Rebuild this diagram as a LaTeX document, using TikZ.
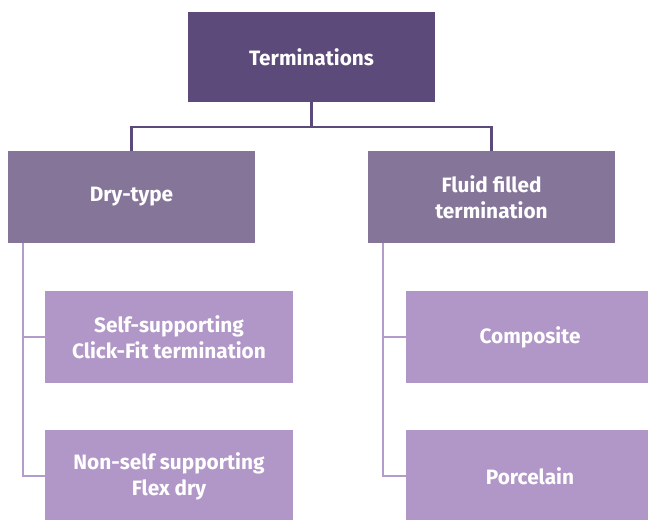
\documentclass[tikz,border=0pt]{standalone}
\usepackage{fontspec}
\setmainfont{Fira Sans}
\usetikzlibrary{positioning}

\definecolor{topcol}{HTML}{5C4A7B}
\definecolor{midcol}{HTML}{857599}
\definecolor{lowcol}{HTML}{B197C7}
\definecolor{linelow}{HTML}{B39BCB}

\begin{document}
\begin{tikzpicture}[
  headbox/.style={rectangle,fill=topcol,text=white,align=center,minimum width=6.175cm,minimum height=2.25cm,font=\fontsize{14.8}{18.6}\selectfont\bfseries},
  groupbox/.style={headbox,fill=midcol,minimum height=2.3cm},
  leafbox/.style={headbox,fill=lowcol,minimum width=6.2cm,minimum height=2.3cm},
  topline/.style={draw=topcol,line width=1.5pt},
  leafline/.style={draw=linelow,line width=1.5pt}
]
\useasboundingbox (0,0) rectangle (16.2,-12.975);

% Kopf und zweite Ebene
\node[headbox] (term) at (7.7875,-1.425) {Terminations};
\node[groupbox] (dry) at (3.2875,-4.925) {Dry-type};
\node[groupbox] (fluid) at (12.2875,-4.925) {Fluid filled\\termination};

% Blaetter
\node[leafbox] (click) at (4.225,-8.425) {Self-supporting\\Click-Fit termination};
\node[leafbox] (flex) at (4.225,-11.9) {Non-self supporting\\Flex dry};
\node[leafbox] (composite) at (13.25,-8.425) {Composite};
\node[leafbox] (porcelain) at (13.25,-11.9) {Porcelain};

% Verbindungen
\draw[topline] (term.south) -- ++(0,-0.625) -| (dry.north);
\draw[topline] (term.south) -- ++(0,-0.625) -| (fluid.north);
\draw[leafline] ([xshift=0.375cm]dry.south west) |- (click.west);
\draw[leafline] ([xshift=0.375cm]dry.south west) |- (flex.west);
\draw[leafline] ([xshift=0.375cm]fluid.south west) |- (composite.west);
\draw[leafline] ([xshift=0.375cm]fluid.south west) |- (porcelain.west);

\end{tikzpicture}
\end{document}
